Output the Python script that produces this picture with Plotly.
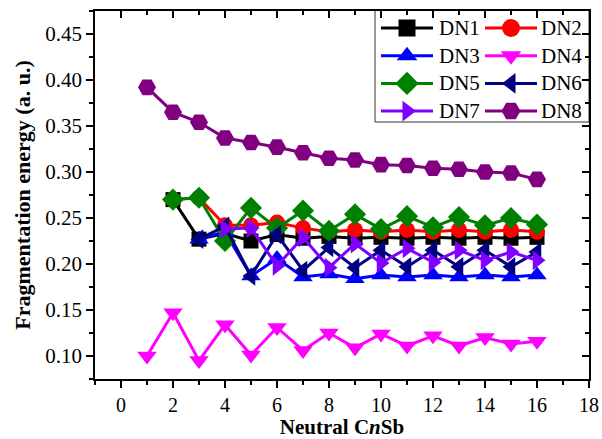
import plotly.graph_objects as go

# ---------------- data ----------------
names = ["DN1", "DN2", "DN3", "DN4", "DN5", "DN6", "DN7", "DN8"]

dn1_n = list(range(2, 17))
dn1 = [0.270, 0.227, 0.233, 0.225, 0.232, 0.228, 0.230, 0.228, 0.229, 0.228, 0.229, 0.228, 0.229, 0.228, 0.229]

dn2_n = list(range(2, 17))
dn2 = [0.270, 0.272, 0.242, 0.242, 0.245, 0.239, 0.235, 0.237, 0.235, 0.237, 0.235, 0.237, 0.235, 0.237, 0.235]

dn3_n = list(range(3, 17))
dn3 = [0.227, 0.235, 0.187, 0.206, 0.186, 0.189, 0.184, 0.188, 0.186, 0.188, 0.186, 0.188, 0.186, 0.188]

dn4_n = list(range(1, 17))
dn4 = [0.100, 0.147, 0.095, 0.134, 0.101, 0.131, 0.106, 0.125, 0.109, 0.124, 0.111, 0.122, 0.111, 0.120, 0.113, 0.116]

dn5_n = list(range(2, 17))
dn5 = [0.270, 0.272, 0.225, 0.261, 0.239, 0.258, 0.236, 0.254, 0.238, 0.252, 0.240, 0.251, 0.242, 0.250, 0.243]

dn6_n = list(range(3, 17))
dn6 = [0.227, 0.241, 0.187, 0.232, 0.193, 0.218, 0.196, 0.215, 0.197, 0.215, 0.197, 0.215, 0.197, 0.213]

dn7_n = list(range(4, 17))
dn7 = [0.238, 0.239, 0.198, 0.229, 0.196, 0.222, 0.201, 0.217, 0.202, 0.215, 0.204, 0.213, 0.204]

dn8_n = list(range(1, 17))
dn8 = [0.392, 0.365, 0.354, 0.337, 0.332, 0.327, 0.321, 0.315, 0.313, 0.308, 0.307, 0.304, 0.303, 0.300, 0.299, 0.292]

xs = [dn1_n, dn2_n, dn3_n, dn4_n, dn5_n, dn6_n, dn7_n, dn8_n]
ys = [dn1, dn2, dn3, dn4, dn5, dn6, dn7, dn8]

x_ticks = [0, 2, 4, 6, 8, 10, 12, 14, 16, 18]
y_ticks = [0.10, 0.15, 0.20, 0.25, 0.30, 0.35, 0.40, 0.45]

# ---------------- styles ----------------
colors = ["#000000", "#FF0000", "#0000FF", "#FF00FF", "#008000", "#000080", "#8000FF", "#800080"]
symbols = ["square", "circle", "triangle-up", "triangle-down", "diamond", "triangle-left", "triangle-right", "hexagon2"]
msizes = [15, 16, 17, 17, 17, 17, 17, 18]
leg_sizes = [17, 18, 18, 18, 18, 18, 18, 19]

W, H = 602, 439
ML, MR, MT, MB = 95, 13, 11, 60
FONT = "Liberation Serif"

fig = go.Figure()
for i in range(8):
    fig.add_trace(go.Scatter(
        x=xs[i], y=ys[i], mode="lines+markers", name=names[i],
        line=dict(color=colors[i], width=3),
        marker=dict(symbol=symbols[i], size=msizes[i], color=colors[i], line=dict(width=0)),
        showlegend=False, cliponaxis=False))

# empty trace so the mirror axes subplot exists
fig.add_trace(go.Scatter(x=[], y=[], xaxis="x2", yaxis="y2", showlegend=False))

# ---------------- custom legend (pixel coordinates on overlay axes) ----------------
px_x0, px_x1 = ML, W - MR
px_y0, px_y1 = H - MB, MT
leg_box = (375, 10, 589, 122)
row_y0, row_dy = 28, 27.7
col_line_x = [381, 485]
line_len = 52
col_text_x = [437, 539]
for i in range(8):
    r, c = divmod(i, 2)
    yy = row_y0 + r * row_dy
    x0 = col_line_x[c]
    fig.add_trace(go.Scatter(
        x=[x0, x0 + line_len], y=[yy, yy], mode="lines", xaxis="x3", yaxis="y3",
        line=dict(color=colors[i], width=3), showlegend=False, hoverinfo="skip"))
    fig.add_trace(go.Scatter(
        x=[x0 + line_len / 2], y=[yy], mode="markers", xaxis="x3", yaxis="y3",
        marker=dict(symbol=symbols[i], size=leg_sizes[i], color=colors[i], line=dict(width=0)),
        showlegend=False, hoverinfo="skip"))
    fig.add_annotation(x=col_text_x[c], y=yy, xref="x3", yref="y3", text=names[i],
                       showarrow=False, xanchor="left", yanchor="middle",
                       font=dict(family=FONT, size=21, color="black"))
fig.add_shape(type="rect", xref="x3", yref="y3", x0=leg_box[0], y0=leg_box[1], x1=leg_box[2], y1=leg_box[3],
              line=dict(color="#333333", width=1), fillcolor="white", layer="below")

axis_common = dict(showgrid=False, zeroline=False, showline=True, linecolor="black", linewidth=1.5,
                   tickcolor="black", tickwidth=1.5, automargin=False)

fig.update_layout(
    width=W, height=H,
    margin=dict(l=ML, r=MR, t=MT, b=MB, pad=0),
    paper_bgcolor="white", plot_bgcolor="white",
    font=dict(family=FONT, color="black"),
    xaxis=dict(range=[-1, 18], tickmode="array", tickvals=x_ticks, ticks="outside", ticklen=7,
               minor=dict(dtick=1, tick0=0, ticks="outside", ticklen=4, tickcolor="black", tickwidth=1.5),
               tickfont=dict(size=20, family=FONT),
               title=dict(text="<b>Neutral C<i>n</i>Sb</b>", font=dict(size=21, family=FONT), standoff=8),
               **axis_common),
    yaxis=dict(range=[0.075, 0.475], tickmode="array", tickvals=y_ticks, tickformat=".2f",
               ticks="outside", ticklen=7,
               minor=dict(dtick=0.025, tick0=0.075, ticks="outside", ticklen=4, tickcolor="black", tickwidth=1.5),
               tickfont=dict(size=21, family=FONT),
               title=dict(text="<b>Fragmentation energy (a. u.)</b>", font=dict(size=22, family=FONT), standoff=9),
               **axis_common),
    xaxis2=dict(range=[-1, 18], overlaying="x", side="top", anchor="y2", tickmode="array", tickvals=x_ticks,
                ticks="inside", ticklen=7, showticklabels=False,
                minor=dict(dtick=1, tick0=0, ticks="inside", ticklen=4, tickcolor="black", tickwidth=1.5),
                **axis_common),
    yaxis2=dict(range=[0.075, 0.475], overlaying="y", side="right", anchor="x2", tickmode="array",
                tickvals=y_ticks, ticks="inside", ticklen=7, showticklabels=False,
                minor=dict(dtick=0.025, tick0=0.075, ticks="inside", ticklen=4, tickcolor="black", tickwidth=1.5),
                **axis_common),
    xaxis3=dict(range=[px_x0, px_x1], overlaying="x", visible=False, anchor="y3", fixedrange=True),
    yaxis3=dict(range=[px_y0, px_y1], overlaying="y", visible=False, anchor="x3", fixedrange=True),
)

fig.write_html("out.html")
